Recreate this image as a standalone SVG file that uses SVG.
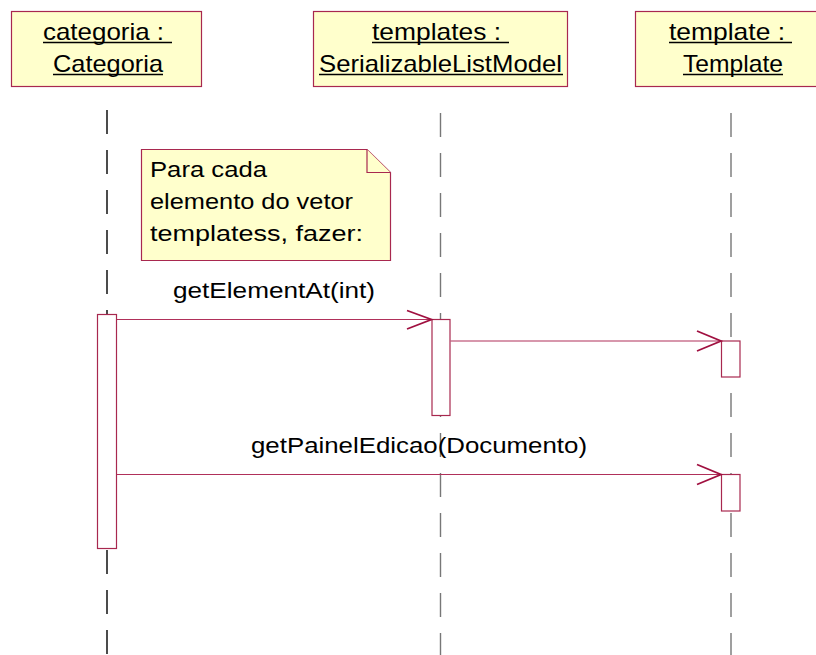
<svg xmlns="http://www.w3.org/2000/svg" width="816" height="655" viewBox="0 0 816 655">
<style>
.obj{fill:#ffffcc;stroke:#a8284f;stroke-width:1.2}
.lbl{font-family:"Liberation Sans",Arial,sans-serif;font-size:24px;fill:#000}
.txt{font-family:"Liberation Sans",Arial,sans-serif;font-size:22.5px;fill:#000}
.ul{stroke:#000;stroke-width:1.4}
.life{stroke-width:1.4;stroke-dasharray:24 16;fill:none}
.act{fill:#fff;stroke:#a8284f;stroke-width:1.2}
.msg{stroke:#b0305a;stroke-width:1.2;fill:none}
.head{stroke:#a01040;stroke-width:1.8;fill:none}
</style>
<g id="lifelines">
<line class="life" x1="107" y1="110" x2="107" y2="655" stroke="#000"/>
<line class="life" x1="440.5" y1="113" x2="440.5" y2="655" stroke="#777"/>
<line class="life" x1="731" y1="113" x2="731" y2="655" stroke="#777"/>
</g>
<g id="obj-categoria">
<rect class="obj" x="11.5" y="11.5" width="190" height="75"/>
<text class="lbl" x="43" y="39.5" textLength="121" lengthAdjust="spacingAndGlyphs">categoria :</text>
<text class="lbl" x="53" y="72" textLength="110" lengthAdjust="spacingAndGlyphs">Categoria</text>
<line class="ul" x1="43" y1="42.5" x2="172" y2="42.5"/>
<line class="ul" x1="53" y1="74.5" x2="163" y2="74.5"/>
</g>
<g id="obj-templates">
<rect class="obj" x="313.5" y="11.5" width="254" height="75"/>
<text class="lbl" x="372" y="39.5" textLength="129" lengthAdjust="spacingAndGlyphs">templates :</text>
<text class="lbl" x="319" y="72" textLength="243" lengthAdjust="spacingAndGlyphs">SerializableListModel</text>
<line class="ul" x1="372" y1="42.5" x2="509" y2="42.5"/>
<line class="ul" x1="319" y1="74.5" x2="563" y2="74.5"/>
</g>
<g id="obj-template">
<rect class="obj" x="635.5" y="11.5" width="195" height="75"/>
<text class="lbl" x="669" y="39.5" textLength="116" lengthAdjust="spacingAndGlyphs">template :</text>
<text class="lbl" x="683" y="72" textLength="100" lengthAdjust="spacingAndGlyphs">Template</text>
<line class="ul" x1="669" y1="42.5" x2="792" y2="42.5"/>
<line class="ul" x1="683" y1="74.5" x2="783" y2="74.5"/>
</g>
<g id="note">
<path class="obj" d="M141.5,149.5 H367 L390.5,172.5 V260.5 H141.5 Z"/>
<path class="obj" d="M367,149.5 V172.5 H390.5" fill="none"/>
<text class="txt" x="150" y="176.5" textLength="117" lengthAdjust="spacingAndGlyphs">Para cada</text>
<text class="txt" x="150" y="208.5" textLength="203" lengthAdjust="spacingAndGlyphs">elemento do vetor</text>
<text class="txt" x="150" y="240.5" textLength="213" lengthAdjust="spacingAndGlyphs">templatess, fazer:</text>
</g>
<g id="activations">
<rect class="act" x="97.5" y="314.5" width="19" height="234"/>
<rect class="act" x="432" y="319.5" width="18" height="96"/>
<rect class="act" x="721.5" y="341" width="18.5" height="36"/>
<rect class="act" x="721.5" y="474.5" width="18.5" height="36.5"/>
</g>
<g id="connectors">
<line class="msg" x1="117" y1="319.5" x2="431" y2="319.5"/>
<polyline class="head" points="407,310.5 431.5,319.5 407,329"/>
<text class="txt" x="173" y="298" textLength="202" lengthAdjust="spacingAndGlyphs">getElementAt(int)</text>
<line class="msg" x1="450.5" y1="341" x2="721" y2="341"/>
<polyline class="head" points="697,331 721,341 697,351"/>
<line class="msg" x1="117" y1="474.5" x2="721" y2="474.5"/>
<polyline class="head" points="697,464.5 721,474.5 697,484.5"/>
<text class="txt" x="251" y="453" textLength="336" lengthAdjust="spacingAndGlyphs">getPainelEdicao(Documento)</text>
</g>
</svg>
